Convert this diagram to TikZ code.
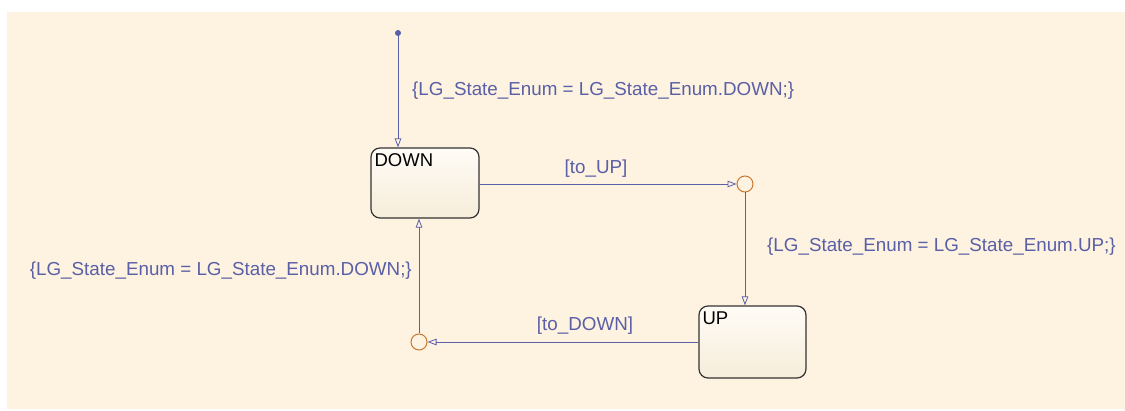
\documentclass[tikz,border=0pt]{standalone}
\usepackage{fontspec}
\setmainfont{Liberation Sans}
\usetikzlibrary{positioning,arrows.meta}
\definecolor{chartbg}{HTML}{FEF3E1}
\definecolor{transblue}{HTML}{5A5FA6}
\definecolor{juncorange}{HTML}{C8772E}
\definecolor{statetop}{HTML}{FFFCF6}
\definecolor{statebot}{HTML}{F6EDDA}
\tikzset{
  state/.style={draw=black!80,line width=1.2pt,rounded corners=9pt,
                top color=statetop,bottom color=statebot,inner sep=0pt},
  sname/.style={font=\fontsize{18.5}{20}\selectfont,text=black,inner sep=0pt},
  junc/.style={circle,draw=juncorange,line width=1pt,fill=chartbg,minimum size=16pt,inner sep=0pt},
  initdot/.style={circle,fill=transblue,minimum size=6pt,inner sep=0pt},
  trans/.style={draw=transblue,line width=0.8pt,-{Triangle[open,length=9pt,width=6.5pt]}},
  tlabel/.style={font=\fontsize{18.8}{20}\selectfont,text=transblue,inner sep=0pt},
}
\begin{document}
\begin{tikzpicture}[x=1pt,y=-1pt]
  \useasboundingbox (0,0) rectangle (1125,411);
  \fill[chartbg] (7,12) rectangle (1125,409);
  % ---- states ----
  \node[state,minimum width=108pt,minimum height=70pt] (down) at (425,183) {};
  \node[sname,anchor=north west] (downName) at ([xshift=4pt,yshift=-6pt]down.north west) {DOWN};
  \node[state,minimum width=107pt,minimum height=72pt] (up) at (752.5,342) {};
  \node[sname,anchor=north west] (upName) at ([xshift=4pt,yshift=-6pt]up.north west) {UP};
  % ---- junctions / default ----
  \node[initdot] (init) at (398,33) {};
  \node[junc] (jUp) at (745,184) {};
  \node[junc] (jDown) at (419,342) {};
  % ---- transitions ----
  \draw[trans] (init) -- (init |- down.north);
  \draw[trans] (down.east |- jUp) -- (jUp);
  \draw[trans] (jUp) -- (jUp |- up.north);
  \draw[trans] (up.west |- jDown) -- (jDown);
  \draw[trans] (jDown) -- (jDown |- down.south);
  % ---- labels ----
  \node[tlabel,anchor=west] (lblInit) at (412,91) {\{LG\_State\_Enum = LG\_State\_Enum.DOWN;\}};
  \node[tlabel] (lblToUp) at (596,169) {[to\_UP]};
  \node[tlabel,anchor=west] (lblUp) at (767,247) {\{LG\_State\_Enum = LG\_State\_Enum.UP;\}};
  \node[tlabel] (lblToDown) at (585,326) {[to\_DOWN]};
  \node[tlabel,anchor=east] (lblDown) at (412,271) {\{LG\_State\_Enum = LG\_State\_Enum.DOWN;\}};
\end{tikzpicture}
\end{document}
